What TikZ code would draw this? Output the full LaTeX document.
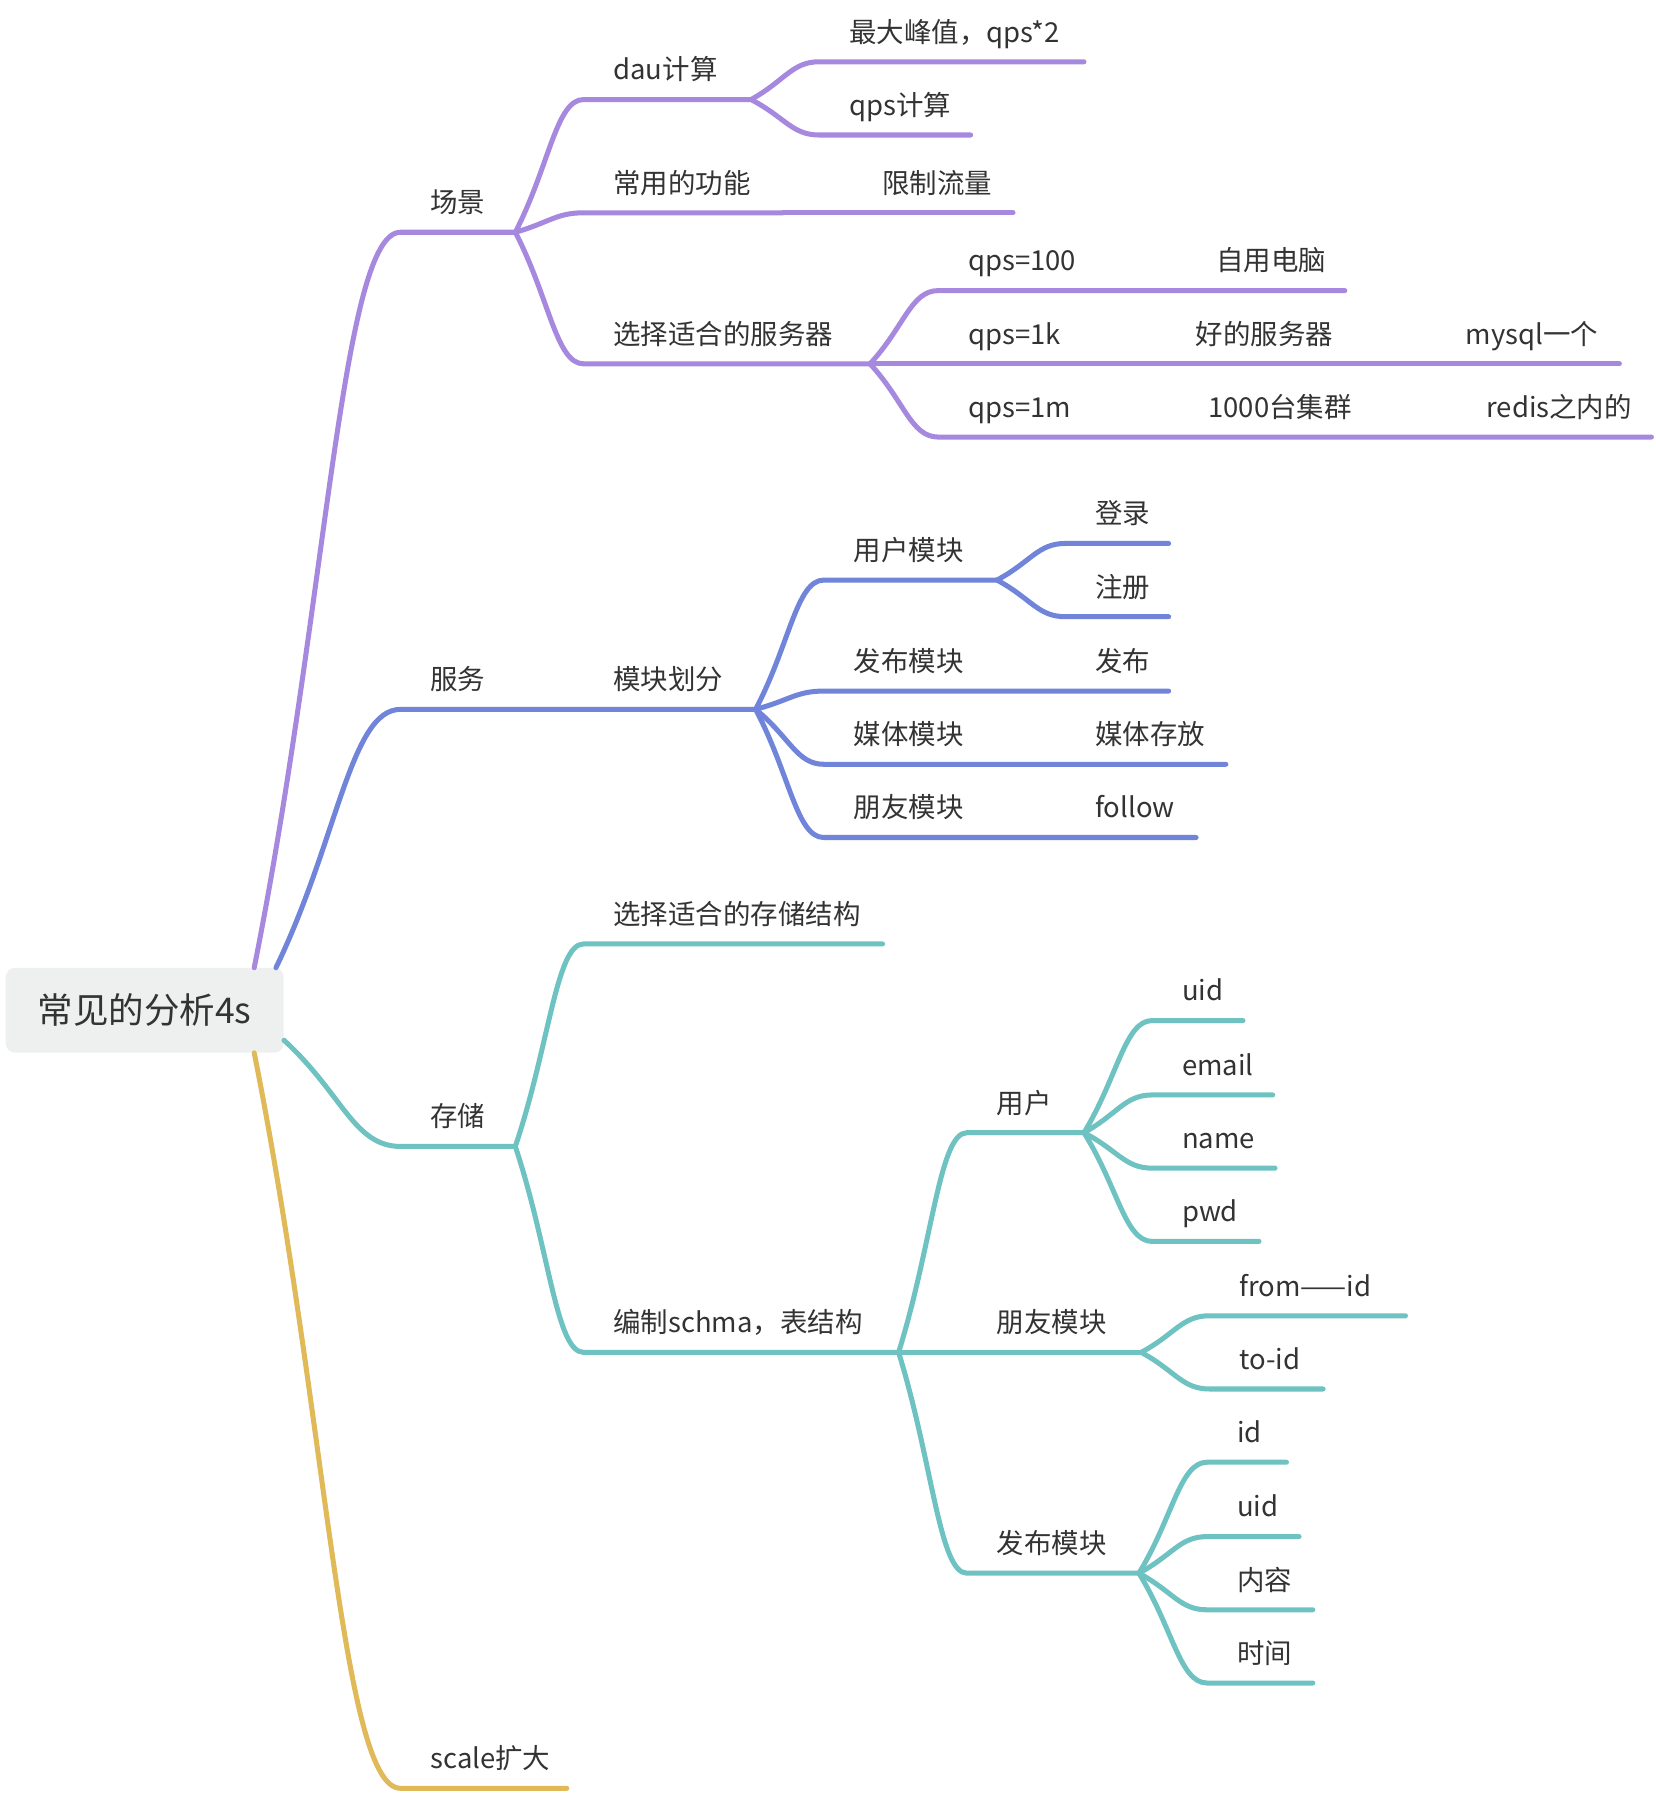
\documentclass[tikz,border=0pt]{standalone}
\usepackage{fontspec}
\setmainfont{Noto Sans CJK SC}
\usetikzlibrary{calc}
\definecolor{scenecol}{HTML}{A689DE}
\definecolor{servicecol}{HTML}{7084D9}
\definecolor{storecol}{HTML}{6FC2C2}
\definecolor{scalecol}{HTML}{E0B958}
\definecolor{rootfill}{HTML}{EEF0F0}
\definecolor{inkcol}{HTML}{333333}
\begin{document}
\begin{tikzpicture}[
    x=1pt, y=-1pt,
    font=\fontsize{24}{28}\selectfont, text=inkcol,
    root/.style={fill=rootfill, rounded corners=8pt, minimum width=243pt, minimum height=74pt, font=\fontsize{31}{36}\selectfont},
    topic/.style={anchor=south west, inner xsep=26pt, inner ysep=17pt, text depth=0pt, align=left,
        execute at begin node={\hyphenpenalty=10000\exhyphenpenalty=10000}},
    len/.style={text width=#1pt-52pt},
    twig/.style={to path={.. controls ($(\tikztostart)!0.5!(\tikztotarget)$) and ($(\tikztostart|-\tikztotarget)!0.6!(\tikztotarget)$) .. (\tikztotarget)}},
    link/.style={line width=4.4pt, line cap=round, line join=round}
]
\useasboundingbox (0,0) rectangle (1447,1568);
\node[root] (root) at (126.5,883) {常见的分析4s};
\coordinate (rootA) at ([xshift=-26pt]root.north east);
\coordinate (rootB) at ([xshift=-7pt]root.north east);
\coordinate (rootC) at ([yshift=11pt]root.south east);
\coordinate (rootD) at ([xshift=-26pt]root.south east);

\node[topic, len=100] (scene) at (350,203) {场景};
\node[topic, len=146] (dau) at (510,87) {dau计算};
\node[topic, len=231] (peak) at (716,54) {最大峰值，qps*2};
\node[topic, len=132] (qpscalc) at (716,118) {qps计算};
\node[topic, len=174] (func) at (510,186) {常用的功能};
\node[topic, len=140] (limit) at (745,186) {限制流量};
\node[topic, len=250] (server) at (510,318) {选择适合的服务器};
\node[topic, len=157] (q100) at (820,254) {qps=100};
\node[topic, len=138] (pc) at (1037,254) {自用电脑};
\node[topic, len=139] (q1k) at (820,318) {qps=1k};
\node[topic, len=176] (goodsrv) at (1019,318) {好的服务器};
\node[topic, len=160] (mysql) at (1255,318) {mysql一个};
\node[topic, len=150] (q1m) at (820,382) {qps=1m};
\node[topic, len=183] (cluster) at (1030,382) {1000台集群};
\node[topic, len=170] (redis) at (1273,382) {redis之内的};

\draw[link, scenecol] (rootA) to[twig] (scene.south west) -- (scene.south east);
\draw[link, scenecol] (scene.south east) to[twig] (dau.south west) -- (dau.south east);
\draw[link, scenecol] (dau.south east) to[twig] (peak.south west) -- (peak.south east);
\draw[link, scenecol] (dau.south east) to[twig] (qpscalc.south west) -- (qpscalc.south east);
\draw[link, scenecol] (scene.south east) to[twig] (func.south west) -- (func.south east);
\draw[link, scenecol] (func.south east) -- (limit.south west) -- (limit.south east);
\draw[link, scenecol] (scene.south east) to[twig] (server.south west) -- (server.south east);
\draw[link, scenecol] (server.south east) to[twig] (q100.south west) -- (q100.south east) -- (pc.south west) -- (pc.south east);
\draw[link, scenecol] (server.south east) -- (q1k.south west) -- (q1k.south east) -- (goodsrv.south west) -- (goodsrv.south east) -- (mysql.south west) -- (mysql.south east);
\draw[link, scenecol] (server.south east) to[twig] (q1m.south west) -- (q1m.south east) -- (cluster.south west) -- (cluster.south east) -- (redis.south west) -- (redis.south east);

\node[topic, len=100] (svc) at (350,620) {服务};
\node[topic, len=150] (modules) at (510,620) {模块划分};
\node[topic, len=151] (umod) at (720,507) {用户模块};
\node[topic, len=90] (login) at (931,475) {登录};
\node[topic, len=90] (reg) at (931,539) {注册};
\node[topic, len=151] (pmod) at (720,604) {发布模块};
\node[topic, len=90] (pub) at (931,604) {发布};
\node[topic, len=151] (mmod) at (720,668) {媒体模块};
\node[topic, len=140] (media) at (931,668) {媒体存放};
\node[topic, len=151] (fmod) at (720,732) {朋友模块};
\node[topic, len=114] (follow) at (931,732) {follow};

\draw[link, servicecol] (rootB) to[twig] (svc.south west) -- (svc.south east) -- (modules.south west) -- (modules.south east);
\draw[link, servicecol] (modules.south east) to[twig] (umod.south west) -- (umod.south east);
\draw[link, servicecol] (umod.south east) to[twig] (login.south west) -- (login.south east);
\draw[link, servicecol] (umod.south east) to[twig] (reg.south west) -- (reg.south east);
\draw[link, servicecol] (modules.south east) to[twig] (pmod.south west) -- (pmod.south east) -- (pub.south west) -- (pub.south east);
\draw[link, servicecol] (modules.south east) to[twig] (mmod.south west) -- (mmod.south east) -- (media.south west) -- (media.south east);
\draw[link, servicecol] (modules.south east) to[twig] (fmod.south west) -- (fmod.south east) -- (follow.south west) -- (follow.south east);

\node[topic, len=100] (store) at (350,1002) {存储};
\node[topic, len=261] (struct) at (510,825) {选择适合的存储结构};
\node[topic, len=275] (schema) at (510,1182) {编制schma，表结构};
\node[topic, len=102] (suser) at (845,990) {用户};
\node[topic, len=79] (uid) at (1007,892) {uid};
\node[topic, len=105] (email) at (1007,957) {email};
\node[topic, len=107] (uname) at (1007,1021) {name};
\node[topic, len=93] (pwd) at (1007,1085) {pwd};
\node[topic, len=152] (sfriend) at (845,1182) {朋友模块};
\node[topic, len=171] (fromid) at (1057,1150) {from——id};
\node[topic, len=99] (toid) at (1057,1214) {to-id};
\node[topic, len=150] (spost) at (845,1375) {发布模块};
\node[topic, len=69] (pid) at (1055,1278) {id};
\node[topic, len=80] (puid) at (1055,1343) {uid};
\node[topic, len=92] (content) at (1055,1407) {内容};
\node[topic, len=92] (ptime) at (1055,1471) {时间};

\draw[link, storecol] (rootC) to[twig] (store.south west) -- (store.south east);
\draw[link, storecol] (store.south east) to[twig] (struct.south west) -- (struct.south east);
\draw[link, storecol] (store.south east) to[twig] (schema.south west) -- (schema.south east);
\draw[link, storecol] (schema.south east) to[twig] (suser.south west) -- (suser.south east);
\draw[link, storecol] (suser.south east) to[twig] (uid.south west) -- (uid.south east);
\draw[link, storecol] (suser.south east) to[twig] (email.south west) -- (email.south east);
\draw[link, storecol] (suser.south east) to[twig] (uname.south west) -- (uname.south east);
\draw[link, storecol] (suser.south east) to[twig] (pwd.south west) -- (pwd.south east);
\draw[link, storecol] (schema.south east) -- (sfriend.south west) -- (sfriend.south east);
\draw[link, storecol] (sfriend.south east) to[twig] (fromid.south west) -- (fromid.south east);
\draw[link, storecol] (sfriend.south east) to[twig] (toid.south west) -- (toid.south east);
\draw[link, storecol] (schema.south east) to[twig] (spost.south west) -- (spost.south east);
\draw[link, storecol] (spost.south east) to[twig] (pid.south west) -- (pid.south east);
\draw[link, storecol] (spost.south east) to[twig] (puid.south west) -- (puid.south east);
\draw[link, storecol] (spost.south east) to[twig] (content.south west) -- (content.south east);
\draw[link, storecol] (spost.south east) to[twig] (ptime.south west) -- (ptime.south east);

\node[topic, len=145] (scale) at (350,1563) {scale扩大};
\draw[link, scalecol] (rootD) to[twig] (scale.south west) -- (scale.south east);
\end{tikzpicture}
\end{document}
